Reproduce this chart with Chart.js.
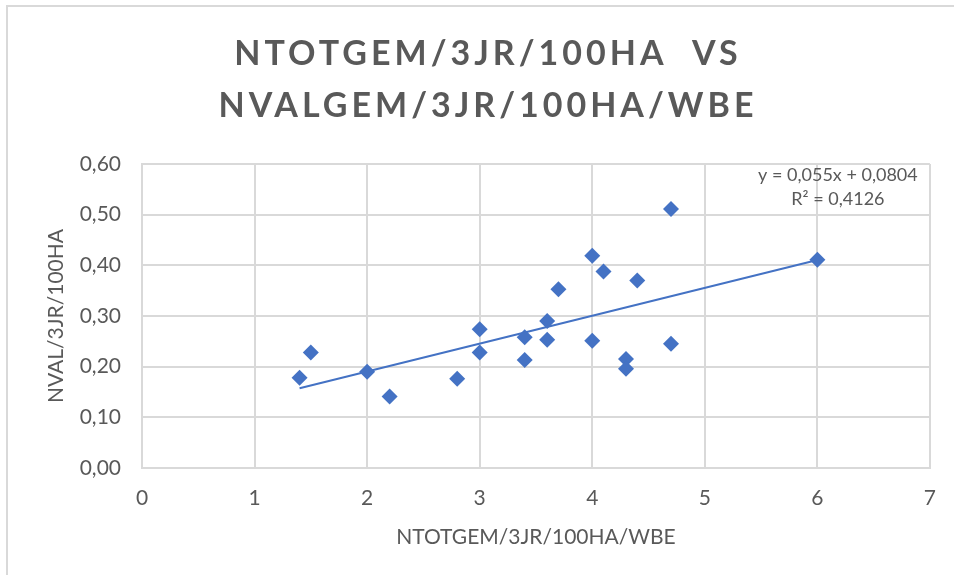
<!DOCTYPE html>
<html>
<head>
<meta charset="utf-8">
<script src="https://cdn.jsdelivr.net/npm/chart.js@4/dist/chart.umd.min.js"></script>
<style>
  html, body { margin: 0; padding: 0; background: #ffffff; }
  #wrap { position: relative; width: 954px; height: 575px; overflow: hidden; }
  #frame { position: absolute; left: 6px; top: 5px; width: 1000px; height: 700px;
           border-left: 2px solid #d9d9d9; border-top: 2px solid #d9d9d9; }
  #c { position: absolute; left: 0; top: 0; }
</style>
</head>
<body>
<div id="wrap">
  <div id="frame"></div>
  <canvas id="c" width="954" height="575"></canvas>
</div>
<script>
// ---- data ----
const titleLines = ['NTOTGEM/3JR/100HA  VS', 'NVALGEM/3JR/100HA/WBE'];
const xAxisTitle = 'NTOTGEM/3JR/100HA/WBE';
const yAxisTitle = 'NVAL/3JR/100HA';
const xValues = [1.4, 1.5, 2.0, 2.2, 2.8, 3.0, 3.0, 3.4, 3.4, 3.6, 3.6, 3.7, 4.0, 4.1, 4.0, 4.4, 4.3, 4.3, 4.7, 4.7, 6.0];
const yValues = [0.178, 0.228, 0.190, 0.141, 0.176, 0.274, 0.228, 0.258, 0.213, 0.290, 0.253, 0.353, 0.419, 0.388, 0.251, 0.370, 0.215, 0.196, 0.511, 0.245, 0.411];
const trendSlope = [0.055];
const trendIntercept = [0.0804];
const equationLines = ['y = 0,055x + 0,0804', 'R\u00B2 = 0,4126'];
const xTickLabels = ['0', '1', '2', '3', '4', '5', '6', '7'];
const yTickLabels = ['0,00', '0,10', '0,20', '0,30', '0,40', '0,50', '0,60'];

// ---- derived ----
const points = xValues.map((x, i) => ({ x: x, y: yValues[i] }));
const xMin = Math.min(...xValues), xMax = Math.max(...xValues);
const trendPoints = [xMin, xMax].map(x => ({ x: x, y: trendSlope[0] * x + trendIntercept[0] }));

const TEXT = '#595959';
const GRID = '#d9d9d9';
const BLUE = '#4472c4';

const titleSpacing = {
  id: 'titleSpacing',
  beforeDraw(chart) {
    const tb = chart.titleBlock;
    if (tb && !tb._spaced) {
      const orig = tb.draw;
      tb.draw = function (...args) {
        const ctx = this.ctx;
        ctx.save();
        ctx.letterSpacing = '4px';
        orig.apply(this, args);
        ctx.restore();
        ctx.letterSpacing = '0px';
      };
      tb._spaced = true;
    }
  }
};

const equationLabel = {
  id: 'equationLabel',
  afterDatasetsDraw(chart) {
    const ctx = chart.ctx;
    const a = chart.chartArea;
    ctx.save();
    ctx.fillStyle = TEXT;
    ctx.font = '18px Lato';
    ctx.textAlign = 'center';
    ctx.textBaseline = 'middle';
    const cx = a.right - 92;
    ctx.fillText(equationLines[0], cx, a.top + 11);
    ctx.fillText(equationLines[1], cx, a.top + 35);
    ctx.restore();
  }
};

new Chart(document.getElementById('c'), {
  type: 'scatter',
  data: {
    datasets: [
      {
        label: 'Data',
        data: points,
        pointStyle: 'rectRot',
        pointRadius: 8,
        pointHoverRadius: 8,
        borderWidth: 0,
        backgroundColor: BLUE,
        borderColor: BLUE,
        order: 1
      },
      {
        label: 'Trend',
        type: 'line',
        data: trendPoints,
        borderColor: BLUE,
        borderWidth: 2,
        pointRadius: 0,
        fill: false,
        tension: 0,
        order: 2
      }
    ]
  },
  options: {
    responsive: false,
    animation: false,
    events: [],
    layout: { padding: { left: 44, right: 22, top: 0, bottom: 0 } },
    plugins: {
      legend: { display: false },
      tooltip: { enabled: false },
      title: {
        display: true,
        text: titleLines,
        color: TEXT,
        font: { family: 'Lato', size: 34, weight: 'bold', lineHeight: '52px' },
        padding: { top: 28, bottom: 32 }
      }
    },
    scales: {
      x: {
        type: 'linear',
        min: 0, max: 7,
        afterFit(s) { s.height = 107; },
        afterBuildTicks(s) { s.ticks = xTickLabels.map((t, i) => ({ value: i })); },
        ticks: {
          stepSize: 1,
          color: TEXT,
          padding: 18,
          font: { family: 'Lato', size: 21 },
          callback: (v, i) => xTickLabels[i]
        },
        grid: { color: GRID, lineWidth: 2, drawTicks: false },
        border: { color: GRID, width: 2 },
        title: {
          display: true,
          text: xAxisTitle,
          color: TEXT,
          font: { family: 'Lato', size: 21 },
          padding: { top: 0, bottom: 25 }
        }
      },
      y: {
        type: 'linear',
        min: 0, max: 0.6,
        afterFit(s) { s.width = 98; },
        afterBuildTicks(s) { s.ticks = yTickLabels.map((t, i) => ({ value: i / 10 })); },
        ticks: {
          stepSize: 0.1,
          color: TEXT,
          padding: 21,
          font: { family: 'Lato', size: 21 },
          callback: (v, i) => yTickLabels[i]
        },
        grid: { color: GRID, lineWidth: 2, drawTicks: false },
        border: { color: GRID, width: 2 },
        title: {
          display: true,
          text: yAxisTitle,
          color: TEXT,
          font: { family: 'Lato', size: 21 },
          padding: { top: 0, bottom: 0 }
        }
      }
    }
  },
  plugins: [titleSpacing, equationLabel]
});
</script>
</body>
</html>
